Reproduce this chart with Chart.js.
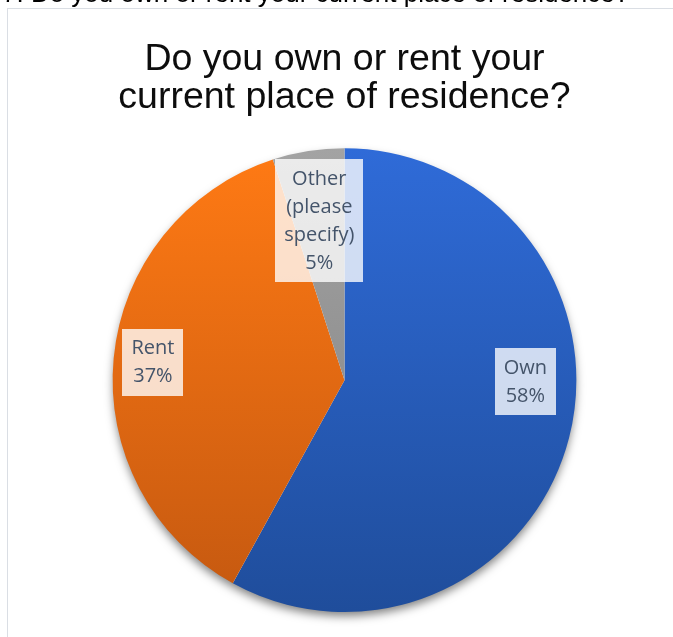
<!DOCTYPE html>
<html>
<head>
<meta charset="utf-8">
<script src="https://cdn.jsdelivr.net/npm/chart.js@4/dist/chart.umd.min.js"></script>
<style>
  html, body { margin: 0; padding: 0; background: #fff; overflow: hidden; }
  #wrap { position: relative; width: 673px; height: 637px; }
  #chart { position: absolute; left: 0; top: 0; }
  #frame {
    position: absolute; left: 7px; top: 8px; width: 720px; height: 700px;
    border: 1px solid #dadee4; pointer-events: none;
  }
  #cut {
    position: absolute; left: 2px; top: -20px; white-space: nowrap;
    font: 26px/26px "Liberation Sans", Arial, sans-serif; color: #000;
  }
</style>
</head>
<body>
<div id="wrap">
  <canvas id="chart" width="673" height="637"></canvas>
  <div id="frame"></div>
  <div id="cut">7. Do you own or rent your current place of residence?</div>
</div>
<script>
// ── Données ─────────────────────────────────────────────────────────
const TITLE_LINES = ["Do you own or rent your", "current place of residence?"];
const CATEGORIES  = ["Own", "Rent", "Other (please specify)"];
const PERCENTS    = [58, 37, 5];

// dégradés haut → bas par tranche
const GRADIENTS = [
  ["#2f6bd8", "#1f4d9b"],
  ["#ff7a14", "#c45810"],
  ["#a3a3a3", "#7f7f7f"],
];

// placement des étiquettes : fraction du rayon + décalage d'angle (degrés)
const LABEL_PLACE = [
  { r: 0.78, da: -14 },
  { r: 0.83, da: 0 },
  { r: 0.695, da: 0 },
];

const LABEL_FONT = '20px "Open Sans", "Noto Sans", sans-serif';
const LABEL_LINE = 28;

function sliceGradient(ctx) {
  const chart = ctx.chart;
  const area = chart.chartArea;
  if (!area) return GRADIENTS[ctx.dataIndex][0];
  const g = chart.ctx.createLinearGradient(0, area.top, 0, area.bottom);
  g.addColorStop(0, GRADIENTS[ctx.dataIndex][0]);
  g.addColorStop(1, GRADIENTS[ctx.dataIndex][1]);
  return g;
}

// ── Ombre sous le disque ────────────────────────────────────────────
const pieShadow = {
  id: "pieShadow",
  beforeDatasetsDraw(chart) {
    const arc = chart.getDatasetMeta(0).data[0];
    if (!arc) return;
    const { x, y, outerRadius } = arc.getProps(["x", "y", "outerRadius"], true);
    const c = chart.ctx;
    c.save();
    c.shadowColor = "rgba(0,0,0,0.5)";
    c.shadowBlur = 10;
    c.shadowOffsetY = 5;
    c.beginPath();
    c.arc(x, y, outerRadius - 1, 0, Math.PI * 2);
    c.fillStyle = "#fff";
    c.fill();
    c.restore();
  },
};

// ── Étiquettes encadrées ────────────────────────────────────────────
function wrap(c, text, maxW) {
  const words = text.split(" ");
  const lines = [];
  let cur = "";
  words.forEach((w) => {
    const t = cur ? cur + " " + w : w;
    if (cur && c.measureText(t).width > maxW) { lines.push(cur); cur = w; }
    else cur = t;
  });
  if (cur) lines.push(cur);
  return lines;
}

const boxLabels = {
  id: "boxLabels",
  afterDatasetsDraw(chart) {
    const c = chart.ctx;
    const meta = chart.getDatasetMeta(0);
    c.save();
    c.font = LABEL_FONT;
    meta.data.forEach((arc, i) => {
      const p = arc.getProps(["x", "y", "startAngle", "endAngle", "outerRadius"], true);
      const mid = (p.startAngle + p.endAngle) / 2 + LABEL_PLACE[i].da * Math.PI / 180;
      const rr = p.outerRadius * LABEL_PLACE[i].r;
      const cx = p.x + Math.cos(mid) * rr;
      const cy = p.y + Math.sin(mid) * rr;
      const lines = wrap(c, CATEGORIES[i], 85).concat([PERCENTS[i] + "%"]);
      const w = Math.max(...lines.map((l) => c.measureText(l).width)) + 18;
      const h = lines.length * LABEL_LINE + 11;
      c.fillStyle = "rgba(255,255,255,0.78)";
      c.fillRect(Math.round(cx - w / 2), Math.round(cy - h / 2), Math.round(w), Math.round(h));
      c.fillStyle = "#44546a";
      c.textAlign = "center";
      c.textBaseline = "middle";
      lines.forEach((l, k) => {
        c.fillText(l, cx, cy - h / 2 + 6 + LABEL_LINE * (k + 0.5));
      });
    });
    c.restore();
  },
};

new Chart(document.getElementById("chart"), {
  type: "pie",
  data: {
    labels: CATEGORIES,
    datasets: [{
      data: PERCENTS,
      backgroundColor: sliceGradient,
      borderWidth: 0,
      hoverBorderWidth: 0,
      hoverOffset: 0,
      offset: 0,
    }],
  },
  options: {
    responsive: false,
    animation: false,
    events: [],
    layout: { padding: { left: 16, right: 0, top: 0, bottom: 25 } },
    plugins: {
      legend: { display: false },
      tooltip: { enabled: false },
      title: {
        display: true,
        text: TITLE_LINES,
        color: "#0d0d0d",
        font: { family: '"Liberation Sans", Arial, sans-serif', size: 37.5, weight: "normal", lineHeight: 0.99 },
        padding: { top: 41.5, bottom: 32.5 },
      },
    },
  },
  plugins: [pieShadow, boxLabels],
});
</script>
</body>
</html>
